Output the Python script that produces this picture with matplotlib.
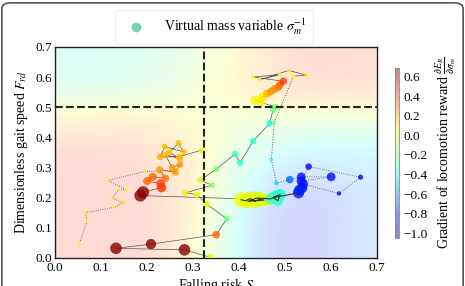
import numpy as np
import matplotlib
matplotlib.use("Agg")
import matplotlib.pyplot as plt
from matplotlib.patches import FancyBboxPatch
from matplotlib.lines import Line2D

plt.rcParams['font.family'] = ['Liberation Serif', 'DejaVu Serif']
plt.rcParams['mathtext.fontset'] = 'stix'

VMIN, VMAX = -1.05, 0.69

# background gradient field (rows: y = 0.0 .. 0.7, cols: x = 0.0 .. 0.7)
bg_field = np.array([
    [0.45, 0.45, 0.40, 0.10, -0.40, -0.80, -0.85, -0.60],
    [0.45, 0.45, 0.45, 0.15, -0.40, -0.80, -0.85, -0.60],
    [0.45, 0.45, 0.45, 0.20, -0.30, -0.70, -0.80, -0.60],
    [0.45, 0.45, 0.40, 0.20, -0.20, -0.50, -0.60, -0.50],
    [0.35, 0.35, 0.30, 0.15, -0.10, -0.30, -0.40, -0.40],
    [0.10, 0.15, 0.10, 0.05, 0.00, 0.00, 0.10, 0.10],
    [-0.30, -0.30, -0.20, 0.00, 0.15, 0.35, 0.40, 0.35],
    [-0.35, -0.35, -0.30, -0.10, 0.10, 0.35, 0.45, 0.40],
])

# trajectory 1: bottom reds -> yellow -> greens up to the upper cluster
t1_x = [0.338, 0.282, 0.133, 0.209, 0.351, 0.374, 0.331, 0.309, 0.284, 0.342,
        0.316, 0.351, 0.392, 0.403, 0.431, 0.467, 0.475, 0.480]
t1_y = [0.002, 0.027, 0.032, 0.046, 0.077, 0.130, 0.178, 0.210, 0.216, 0.241,
        0.258, 0.294, 0.345, 0.316, 0.387, 0.446, 0.492, 0.500]
t1_v = [0.05, 0.67, 0.67, 0.67, 0.35, -0.20, 0.05, 0.05, 0.10, -0.15,
        0.02, -0.20, -0.35, -0.35, -0.35, -0.40, -0.25, -0.15]
t1_s = [30, 70, 70, 55, 30, 22, 22, 22, 22, 20, 22, 18, 22, 22, 22, 22, 22, 22]

# trajectory 2: middle reds and orange cluster
t2_x = [0.430, 0.186, 0.192, 0.232, 0.230, 0.201, 0.213, 0.240, 0.228, 0.262,
        0.272, 0.255, 0.240, 0.272, 0.249, 0.269, 0.280, 0.239, 0.229, 0.270, 0.320]
t2_y = [0.195, 0.207, 0.218, 0.233, 0.247, 0.255, 0.269, 0.264, 0.292, 0.285,
        0.310, 0.300, 0.342, 0.330, 0.350, 0.381, 0.352, 0.369, 0.335, 0.336, 0.358]
t2_v = [0.05, 0.67, 0.67, 0.45, 0.42, 0.35, 0.35, 0.33, 0.25, 0.25,
        0.25, 0.25, 0.20, 0.22, 0.18, 0.18, 0.18, 0.18, 0.22, 0.20, 0.08]
t2_s = [40, 75, 75, 45, 40, 35, 35, 32, 30, 28, 25, 25, 22, 22, 20, 20, 18, 20, 22, 20, 18]

# trajectory 3: small dotted yellow path on the left
t3_x = [0.054, 0.070, 0.067, 0.130, 0.151, 0.141, 0.125, 0.138, 0.156, 0.116, 0.196, 0.270]
t3_y = [0.050, 0.123, 0.150, 0.168, 0.185, 0.187, 0.200, 0.226, 0.226, 0.257, 0.287, 0.290]
t3_v = [0.05] * 12

# trajectory 4: upper cluster and loop
t4_x = [0.480, 0.436, 0.448, 0.452, 0.462, 0.470, 0.478, 0.486, 0.490, 0.497,
        0.431, 0.489, 0.446, 0.509, 0.547, 0.519]
t4_y = [0.500, 0.523, 0.518, 0.535, 0.545, 0.552, 0.560, 0.567, 0.575, 0.586,
        0.600, 0.608, 0.591, 0.622, 0.606, 0.603]
t4_v = [-0.15, 0.08, 0.08, 0.10, 0.20, 0.25, 0.28, 0.32, 0.35, 0.42,
        0.05, 0.05, 0.05, 0.05, 0.05, 0.05]
t4_s = [25, 45, 45, 40, 35, 32, 32, 30, 30, 28, 8, 8, 8, 8, 8, 8]

# trajectory 5: dotted descent and blue cluster
t5_x = [0.519, 0.477, 0.471, 0.482, 0.511, 0.536, 0.601, 0.536, 0.552, 0.665,
        0.618, 0.540, 0.538, 0.532, 0.530]
t5_y = [0.603, 0.450, 0.326, 0.248, 0.260, 0.269, 0.269, 0.255, 0.303, 0.268,
        0.214, 0.245, 0.232, 0.225, 0.216]
t5_v = [0.05, -0.20, -0.35, -0.45, -0.65, -0.80, -0.80, -0.80, -0.82, -0.82,
        -0.82, -0.80, -0.80, -0.78, -0.78]
t5_s = [8, 8, 8, 10, 30, 40, 40, 45, 22, 14, 10, 50, 55, 60, 65]

# blob: dense yellow/green cluster near (0.43, 0.19)
t6_x = [0.405, 0.415, 0.425, 0.435, 0.445, 0.455, 0.420, 0.440, 0.470, 0.480, 0.490, 0.485, 0.475, 0.530]
t6_y = [0.193, 0.190, 0.197, 0.188, 0.195, 0.192, 0.188, 0.199, 0.196, 0.205, 0.210, 0.190, 0.200, 0.216]
t6_v = [0.07, 0.05, 0.03, 0.05, 0.03, 0.05, 0.05, 0.03, -0.30, -0.35, -0.40, -0.35, -0.30, -0.78]
t6_s = [110, 110, 110, 110, 110, 90, 90, 90, 70, 70, 70, 60, 60, 10]

fig = plt.figure(figsize=(4.65, 2.86), dpi=100)
ax = fig.add_axes([0.118, 0.098, 0.692, 0.738])

ax.imshow(bg_field, extent=[0, 0.7, 0, 0.7], origin='lower', cmap='jet',
          vmin=VMIN, vmax=VMAX, interpolation='bicubic', alpha=0.17,
          aspect='auto', zorder=0)

line_kw = dict(color='#555555', lw=0.5, zorder=2)
ax.plot(t1_x, t1_y, **line_kw)
ax.plot(t2_x, t2_y, **line_kw)
ax.plot(t3_x, t3_y, color='#555555', lw=0.6, ls=':', zorder=2)
ax.plot(t4_x[:10], t4_y[:10], **line_kw)
ax.plot(t4_x[9:], t4_y[9:], **line_kw)
ax.plot(t5_x[:5], t5_y[:5], color='#555555', lw=0.7, ls=':', zorder=2)
ax.plot(t5_x[4:], t5_y[4:], color='#555555', lw=0.6, ls=':', zorder=2)
ax.plot(t6_x, t6_y, color='#333333', lw=0.8, zorder=4)

sc_kw = dict(cmap='jet', vmin=VMIN, vmax=VMAX, alpha=0.8, edgecolors='none', zorder=3)
ax.scatter(t1_x, t1_y, c=t1_v, s=t1_s, **sc_kw)
ax.scatter(t2_x, t2_y, c=t2_v, s=t2_s, **sc_kw)
ax.scatter(t3_x, t3_y, c=t3_v, s=5, **sc_kw)
ax.scatter(t4_x, t4_y, c=t4_v, s=t4_s, **sc_kw)
ax.scatter(t5_x, t5_y, c=t5_v, s=t5_s, **sc_kw)
sm = ax.scatter(t6_x, t6_y, c=t6_v, s=t6_s, **sc_kw)

ax.axvline(0.325, color='#222222', ls='--', lw=1.5, zorder=5)
ax.axhline(0.5, color='#222222', ls='--', lw=1.5, zorder=5)

ax.set_xlim(0, 0.7)
ax.set_ylim(0, 0.7)
ticks = np.arange(0, 0.71, 0.1)
ax.set_xticks(ticks)
ax.set_yticks(ticks)
ax.set_xticklabels([f'{t:.1f}' for t in ticks])
ax.set_yticklabels([f'{t:.1f}' for t in ticks])
ax.tick_params(length=0, labelsize=9.5)
ax.tick_params(axis='x', pad=3)
ax.tick_params(axis='y', pad=2)
for sp in ax.spines.values():
    sp.set_color('#222222')
    sp.set_linewidth(1.0)
ax.set_xlabel('Falling risk $S$', fontsize=10, labelpad=2)
ax.set_ylabel('Dimensionless gait speed $F_{rd}$', fontsize=10, labelpad=4)

cax = fig.add_axes([0.849, 0.168, 0.009, 0.594])
cb = fig.colorbar(sm, cax=cax)
cb.solids.set_alpha(0.45)
cb.set_ticks(np.round(np.arange(-1.0, 0.61, 0.2), 1))
cb.ax.tick_params(length=0, labelsize=9.5, pad=3)
cb.outline.set_edgecolor('#888888')
cb.outline.set_linewidth(0.6)
cb.set_label(r'Gradient of locomotion reward $\frac{\partial E_R}{\partial \sigma_m}$',
             fontsize=10, labelpad=4)

handle = Line2D([], [], marker='o', ls='', color='#6fcfa8', markersize=6, alpha=0.9)
fig.legend([handle], [r'Virtual mass variable $\sigma_m^{-1}$'], loc='center',
           bbox_to_anchor=(0.46, 0.905), fontsize=10, frameon=True,
           edgecolor='#eeeeee', fancybox=False, handletextpad=1.0,
           borderpad=0.5)

border = FancyBboxPatch((0.004, -0.1), 0.992, 1.09, transform=fig.transFigure,
                        boxstyle='round,pad=0,rounding_size=0.02',
                        facecolor='none', edgecolor='#555555', lw=1.2)
fig.patches.append(border)

fig.savefig('out.png', dpi=100)
